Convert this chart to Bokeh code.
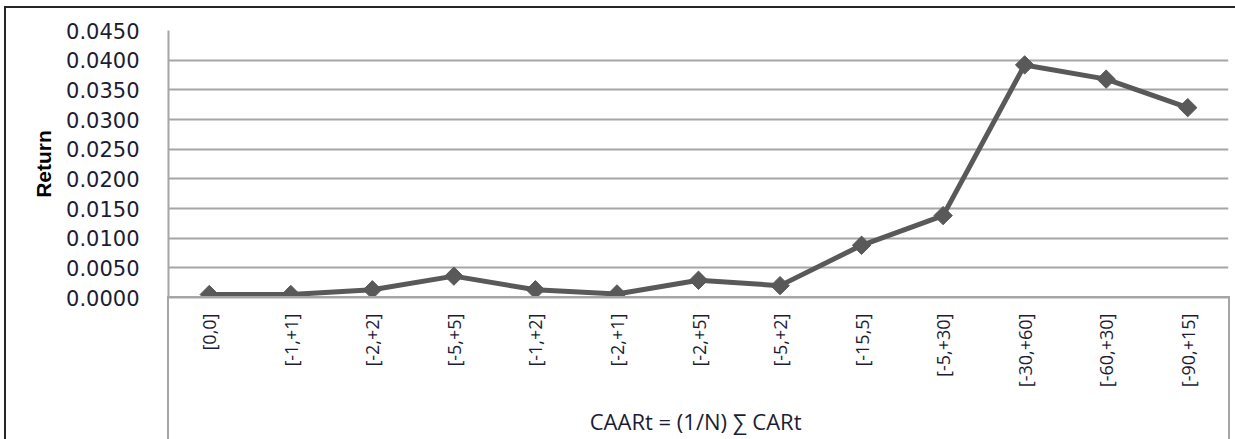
from bokeh.plotting import figure
from bokeh.models import FixedTicker, NumeralTickFormatter, Range1d, FactorRange, InlineStyleSheet
from bokeh.embed import file_html
from bokeh.resources import INLINE
import math

categories = ["[0,0]", "[-1,+1]", "[-2,+2]", "[-5,+5]", "[-1,+2]", "[-2,+1]", "[-2,+5]",
              "[-5,+2]", "[-15,5]", "[-5,+30]", "[-30,+60]", "[-60,+30]", "[-90,+15]"]
caar = [0.0005, 0.0005, 0.0013, 0.0036, 0.0013, 0.0006, 0.0029,
        0.0020, 0.0088, 0.0138, 0.0392, 0.0368, 0.0320]
y_ticks = [0.0, 0.005, 0.010, 0.015, 0.020, 0.025, 0.030, 0.035, 0.040, 0.045]

p = figure(width=1235, height=439, output_backend="svg", toolbar_location=None,
           x_range=FactorRange(*categories), y_range=Range1d(0, 0.045),
           min_border_left=168, min_border_right=7, min_border_top=30, min_border_bottom=142)
p.outline_line_color = None
p.background_fill_color = "white"
p.border_fill_color = "white"

grid_col = "#a6a6a6"
p.xgrid.grid_line_color = None
p.ygrid.grid_line_color = grid_col
p.ygrid.grid_line_width = 2

p.yaxis.ticker = FixedTicker(ticks=y_ticks)
p.yaxis.formatter = NumeralTickFormatter(format="0.0000")
p.yaxis.axis_line_color = grid_col
p.yaxis.axis_line_width = 2
p.yaxis.major_tick_line_color = None
p.yaxis.minor_tick_line_color = None
p.yaxis.major_label_standoff = 23
p.yaxis.major_label_text_font = "DejaVu Sans"
p.yaxis.major_label_text_font_size = "21px"
p.yaxis.major_label_text_color = "#1c1c34"
p.yaxis.axis_label = "Return"
p.yaxis.axis_label_text_font = "Liberation Sans"
p.yaxis.axis_label_text_font_style = "bold"
p.yaxis.axis_label_text_font_size = "21px"
p.yaxis.axis_label_text_color = "#000000"
p.yaxis.axis_label_standoff = 8

p.xaxis.axis_line_color = grid_col
p.xaxis.axis_line_width = 2
p.xaxis.major_tick_line_color = None
p.xaxis.minor_tick_line_color = None
p.xaxis.major_label_orientation = math.pi / 2
p.xaxis.major_label_standoff = 10
p.xaxis.major_label_text_font = "Open Sans"
p.xaxis.major_label_text_font_size = "18px"
p.xaxis.major_label_text_color = "#1c1c34"
p.xaxis.axis_label = "CAARt =  (1/N) \u2211 CARt"
p.xaxis.axis_label_text_font = "Open Sans"
p.xaxis.axis_label_text_font_style = "normal"
p.xaxis.axis_label_text_font_size = "22px"
p.xaxis.axis_label_text_color = "#1c1c34"
p.xaxis.axis_label_standoff = 16

p.line(categories, caar, line_color="#595959", line_width=5)
p.scatter(categories, caar, marker="square", angle=math.pi / 4, size=13,
          fill_color="#595959", line_color="#595959")

css = """
:host { position: relative; }
:host::before { content: ""; position: absolute; left: 4px; top: 6px; right: 0px; bottom: 0px;
  border-left: 2px solid #262626; border-top: 2px solid #262626; pointer-events: none; z-index: 10; }
:host::after { content: ""; position: absolute; left: 167px; top: 296px; width: 1059px; height: 143px;
  border-left: 2px solid #a6a6a6; border-right: 2px solid #a6a6a6; border-top: 2px solid #a6a6a6;
  pointer-events: none; z-index: 10; }
"""
p.stylesheets = [InlineStyleSheet(css=css)]

open("out.html", "w").write(file_html(p, INLINE))
